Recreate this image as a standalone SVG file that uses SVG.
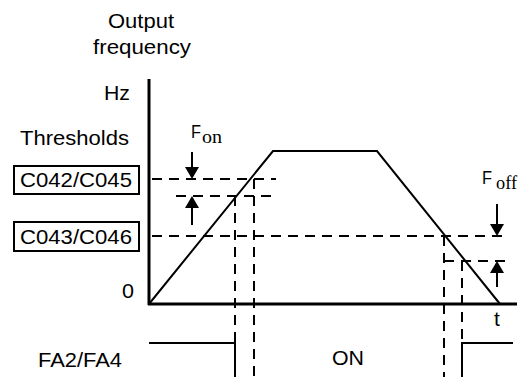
<svg xmlns="http://www.w3.org/2000/svg" width="525" height="377" viewBox="0 0 525 377">
<defs>
<style>
.t{font-family:"Liberation Sans",Arial,sans-serif;font-size:21px;fill:#000}
.f{font-family:"Liberation Sans",Arial,sans-serif;font-size:18px;fill:#000}
.s{font-family:"Liberation Serif","Times New Roman",serif;font-size:19px;fill:#000}
.ax{stroke:#000;stroke-width:3;fill:none}
.ln{stroke:#000;stroke-width:2;fill:none}
.ds{stroke:#000;stroke-width:2;fill:none;stroke-dasharray:10 7}
.bx{stroke:#000;stroke-width:2;fill:#fff}
</style>
<marker id="ah" viewBox="0 0 12 14" refX="0" refY="7" markerWidth="12" markerHeight="14" markerUnits="userSpaceOnUse" orient="auto">
<path d="M0,0 L12,7 L0,14 z" fill="#000"/>
</marker>
</defs>
<rect width="525" height="377" fill="#fff"/>
<g id="labels">
<text class="t" x="108" y="28" textLength="66" lengthAdjust="spacingAndGlyphs">Output</text>
<text class="t" x="93" y="54" textLength="98" lengthAdjust="spacingAndGlyphs">frequency</text>
<text class="t" x="104" y="100" textLength="26" lengthAdjust="spacingAndGlyphs">Hz</text>
<text class="t" x="20" y="145" textLength="109" lengthAdjust="spacingAndGlyphs">Thresholds</text>
<text class="t" x="122" y="298" textLength="12" lengthAdjust="spacingAndGlyphs">0</text>
<text class="t" x="38" y="367" textLength="84" lengthAdjust="spacingAndGlyphs">FA2/FA4</text>
<text class="t" x="332" y="365" textLength="32" lengthAdjust="spacingAndGlyphs">ON</text>
<text class="t" x="494" y="326">t</text>
</g>
<g id="c042">
<rect class="bx" x="14" y="166" width="125" height="28"/>
<text class="t" x="20" y="187" textLength="112" lengthAdjust="spacingAndGlyphs">C042/C045</text>
</g>
<g id="c043">
<rect class="bx" x="14" y="222" width="125" height="29"/>
<text class="t" x="20" y="244" textLength="112" lengthAdjust="spacingAndGlyphs">C043/C046</text>
</g>
<g id="fon">
<text class="f" x="191" y="138" textLength="10" lengthAdjust="spacingAndGlyphs">F</text>
<text class="s" x="202" y="143" textLength="20" lengthAdjust="spacingAndGlyphs">on</text>
</g>
<g id="foff">
<text class="f" x="482" y="184" textLength="10" lengthAdjust="spacingAndGlyphs">F</text>
<text class="s" x="496" y="189" textLength="21" lengthAdjust="spacingAndGlyphs">off</text>
</g>
<g id="connectors">
<path class="ds" d="M152,179 H276"/>
<path class="ds" d="M176,196 H276"/>
<path class="ds" d="M152,236 H509"/>
<path class="ds" d="M444,261 H509"/>
<path class="ds" d="M235,196 V377"/>
<path class="ds" d="M254,179 V377"/>
<path class="ds" d="M444,236 V377"/>
<path class="ds" d="M462,261 V343"/>
<path class="ax" d="M149,79 V305 M148,304 H517"/>
<path class="ln" d="M149,304 L273,151 H377 L500,304"/>
<path class="ln" d="M149,343 H235 V377"/>
<path class="ln" d="M462,377 V343 H513"/>
<path class="ln" d="M192,152 V167" marker-end="url(#ah)"/>
<path class="ln" d="M192,225 V208" marker-end="url(#ah)"/>
<path class="ln" d="M497,204 V224" marker-end="url(#ah)"/>
<path class="ln" d="M497,287 V273" marker-end="url(#ah)"/>
</g>
</svg>
